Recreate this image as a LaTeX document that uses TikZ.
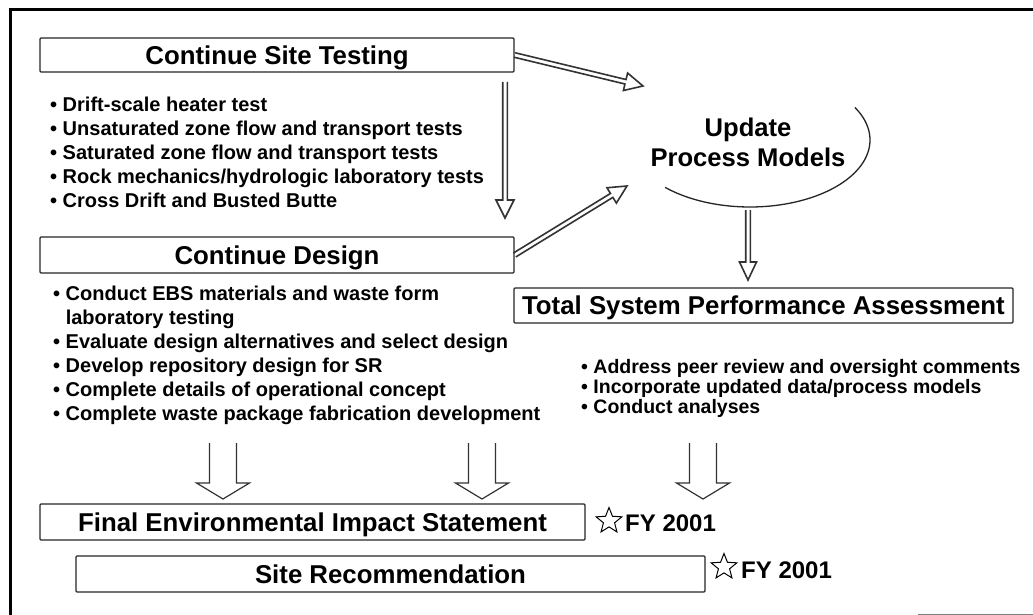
\documentclass[tikz,border=0pt]{standalone}
\usepackage{fontspec}
\setmainfont{Liberation Sans}
\usetikzlibrary{calc,shapes.geometric}

% Hollow straight arrow between two named points:
% [style]{from}{to}{shaft half width}{head half width}{head length}
\newcommand\hollowarrow[6][]{%
  \path ($(#3)!#6!(#2)$) coordinate (hb);
  \draw[#1] ($(#2)!#4!90:(#3)$) -- ($(hb)!#4!-90:(#2)$) -- ($(hb)!#5!-90:(#2)$)
    -- (#3) -- ($(hb)!#5!90:(#2)$) -- ($(hb)!#4!90:(#2)$) -- ($(#2)!#4!-90:(#3)$);
}

\begin{document}
\begin{tikzpicture}[x=1pt,y=-1pt,
  frame/.style={line width=3pt,black},
  boxline/.style={draw=black!85,line width=1.2pt},
  titlebox/.style={boxline,rectangle,inner sep=0pt,rounded corners=1pt,
    text height=18.5pt,text depth=0pt,font=\bfseries\fontsize{25.8}{30}\selectfont},
  listtext/.style={anchor=north west,inner sep=0pt,align=left,
    font=\bfseries\fontsize{20}{24}\selectfont},
  thinarrow/.style={draw=black!80,line width=1.6pt,line join=miter},
  fatarrow/.style={draw=black!80,line width=1.2pt,line join=miter},
  milestone/.style={star,star points=5,star point ratio=2.3,draw=black,
    line width=1pt,minimum size=27pt,inner sep=0pt},
  fylabel/.style={anchor=west,inner sep=0pt,font=\bfseries\fontsize{24}{28}\selectfont}]

\useasboundingbox (0,0) rectangle (1033,615);
\fill[white] (0,0) rectangle (1033,615);

% page frame
\draw[frame] (10,615) -- (10,10) -- (1033,10);
\draw[black!50,line width=1pt] (918,614) -- (1033,614);

% site testing
\node[titlebox,minimum width=474pt,minimum height=34pt] (cst) at (277,55) {Continue Site Testing};
\node[listtext] (cstlist) at (50,96.5) {%
  \textbullet\ Drift-scale heater test\\
  \textbullet\ Unsaturated zone flow and transport tests\\
  \textbullet\ Saturated zone flow and transport tests\\
  \textbullet\ Rock mechanics/hydrologic laboratory tests\\
  \textbullet\ Cross Drift and Busted Butte};

% design
\node[titlebox,minimum width=474pt,minimum height=36pt] (cd) at (277,255) {Continue Design};
\node[listtext] (cdlist) at (53,286) {%
  \textbullet\ Conduct EBS materials and waste form\\
  \phantom{\textbullet\ }laboratory testing\\
  \textbullet\ Evaluate design alternatives and select design\\
  \textbullet\ Develop repository design for SR\\
  \textbullet\ Complete details of operational concept\\
  \textbullet\ Complete waste package fabrication development};

% process models
\node[align=center,inner sep=0pt,font=\bfseries\fontsize{25.6}{30}\selectfont] (upm) at (748,142)
  {Update\\Process Models};
\draw[boxline,line width=1.3pt] plot[domain=-29:135,samples=80,smooth]
  ({750+120*cos(\x)},{140+67*sin(\x)});

% performance assessment
\node[titlebox,minimum width=499pt,minimum height=35pt] (tspa) at (763.5,305.5)
  {Total System Performance Assessment};
\node[listtext,font=\bfseries\fontsize{19.5}{20}\selectfont] (tspalist) at (581,358.7) {%
  \textbullet\ Address peer review and oversight comments\\
  \textbullet\ Incorporate updated data/process models\\
  \textbullet\ Conduct analyses};

% decisions
\node[titlebox,minimum width=545pt,minimum height=36pt] (feis) at (312.5,522)
  {Final Environmental Impact Statement};
\node[titlebox,minimum width=629pt,minimum height=36pt] (sr) at (390.5,574)
  {Site Recommendation};
\node[milestone] (star1) at (609,521) {};
\node[fylabel] (fy1) at (625,523) {FY 2001};
\node[milestone] (star2) at (724,567) {};
\node[fylabel] (fy2) at (741,570) {FY 2001};

% flow arrows
\coordinate (a1s) at (505,82);  \coordinate (a1e) at (505,218);
\coordinate (a2e) at (643,86);
\coordinate (a3e) at (627,186);
\coordinate (a4s) at (748,210); \coordinate (a4e) at (748,280);
\hollowarrow[thinarrow]{a1s}{a1e}{2.3pt}{9pt}{18pt}
\hollowarrow[thinarrow]{cst.east}{a2e}{2.3pt}{9pt}{18pt}
\hollowarrow[thinarrow]{cd.east}{a3e}{2.3pt}{9pt}{18pt}
\hollowarrow[thinarrow]{a4s}{a4e}{2.3pt}{8.5pt}{18pt}

\coordinate (b1s) at (223,443); \coordinate (b1e) at (223,499);
\coordinate (b2s) at (482,443); \coordinate (b2e) at (482,499);
\coordinate (b3s) at (703,443); \coordinate (b3e) at (703,499);
\hollowarrow[fatarrow]{b1s}{b1e}{13.5pt}{26.5pt}{16pt}
\hollowarrow[fatarrow]{b2s}{b2e}{13.5pt}{26.5pt}{16pt}
\hollowarrow[fatarrow]{b3s}{b3e}{13.5pt}{26.5pt}{16pt}
\end{tikzpicture}
\end{document}
